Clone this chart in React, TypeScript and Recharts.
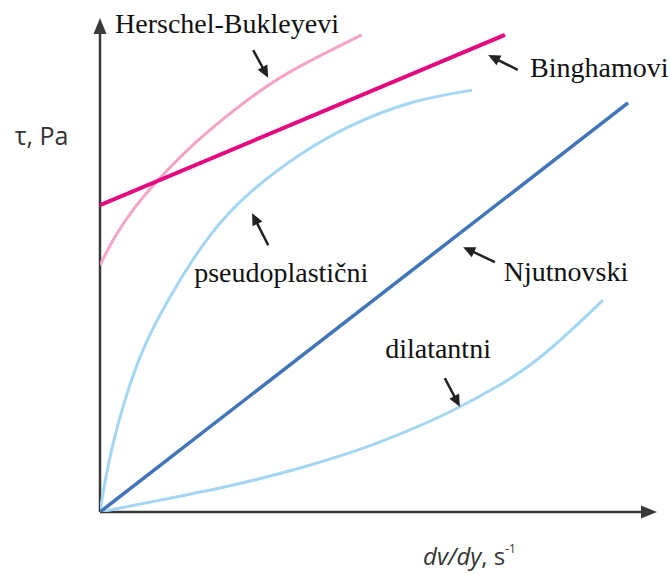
import React from 'react';
import { ComposedChart, Line, XAxis, YAxis, ReferenceLine, ReferenceDot } from 'recharts';

// curves, in axis units (0..10 on both axes)
const newtonian = [
  { x: 0, y: 0 },
  { x: 9.48, y: 8.28 },
];
const bingham = [
  { x: 0, y: 6.21 },
  { x: 7.27, y: 9.66 },
];
const herschel = [
  { x: 0, y: 5.0 },
  { x: 0.27, y: 5.57 },
  { x: 0.63, y: 6.17 },
  { x: 1.08, y: 6.76 },
  { x: 1.71, y: 7.47 },
  { x: 2.51, y: 8.22 },
  { x: 3.41, y: 8.91 },
  { x: 4.7, y: 9.66 },
];
const pseudoplastic = [
  { x: 0, y: 0 },
  { x: 0.09, y: 0.61 },
  { x: 0.23, y: 1.36 },
  { x: 0.45, y: 2.27 },
  { x: 0.81, y: 3.38 },
  { x: 1.35, y: 4.53 },
  { x: 1.97, y: 5.59 },
  { x: 2.69, y: 6.46 },
  { x: 3.59, y: 7.23 },
  { x: 4.49, y: 7.81 },
  { x: 5.57, y: 8.28 },
  { x: 6.68, y: 8.54 },
];
const dilatant = [
  { x: 0, y: 0 },
  { x: 1.08, y: 0.24 },
  { x: 2.33, y: 0.53 },
  { x: 3.59, y: 0.89 },
  { x: 5.03, y: 1.42 },
  { x: 6.46, y: 2.13 },
  { x: 7.75, y: 3.0 },
  { x: 9.03, y: 4.29 },
];

// curve labels and their pointer arrows (tail -> head)
const labels = [
  { text: 'Herschel-Bukleyevi', x: 0.27, y: 9.7 },
  { text: 'Binghamovi', x: 7.72, y: 8.81 },
  { text: 'pseudoplastični', x: 1.69, y: 4.66 },
  { text: 'Njutnovski', x: 7.25, y: 4.68 },
  { text: 'dilatantni', x: 5.12, y: 3.12 },
];
const pointers = [
  { from: { x: 2.75, y: 9.35 }, to: { x: 3.02, y: 8.79 } },
  { from: { x: 7.5, y: 8.95 }, to: { x: 6.97, y: 9.25 } },
  { from: { x: 3.02, y: 5.4 }, to: { x: 2.73, y: 6.05 } },
  { from: { x: 7.09, y: 5.06 }, to: { x: 6.52, y: 5.36 } },
  { from: { x: 6.19, y: 2.71 }, to: { x: 6.46, y: 2.13 } },
];

const axisColor = '#3a3a3a';

const arrow = (head: number, width: number, color: string, sw: number) => (p: any) => {
  const { x1, y1, x2, y2 } = p;
  const dx = x2 - x1;
  const dy = y2 - y1;
  const len = Math.hypot(dx, dy) || 1;
  const ux = dx / len;
  const uy = dy / len;
  const bx = x2 - ux * head;
  const by = y2 - uy * head;
  const nx = (-uy * width) / 2;
  const ny = (ux * width) / 2;
  return (
    <g>
      <line x1={x1} y1={y1} x2={bx + ux * 2} y2={by + uy * 2} stroke={color} strokeWidth={sw} />
      <polygon points={`${x2},${y2} ${bx + nx},${by + ny} ${bx - nx},${by - ny}`} fill={color} />
    </g>
  );
};

const serifText = (text: string) => (p: any) => (
  <text x={p.cx} y={p.cy} fontFamily="'Liberation Serif', 'Times New Roman', serif" fontSize={28} fill="#111">
    {text}
  </text>
);

const yTitle = (p: any) => (
  <text x={p.cx} y={p.cy} fontFamily="'Open Sans', sans-serif" fontSize={25} fill="#333">
    τ, Pa
  </text>
);

const xTitle = (p: any) => (
  <text x={p.cx} y={p.cy} fontFamily="'Open Sans', sans-serif" fontSize={24} fill="#333">
    <tspan fontStyle="italic">dv/dy</tspan>
    <tspan>, s</tspan>
    <tspan fontSize={12} dy={-12}>-1</tspan>
  </text>
);

export default function App() {
  return (
    <div style={{ position: 'absolute', left: 0, top: 0, background: '#fff' }}>
      <ComposedChart width={670} height={574} margin={{ top: 18, right: 13, bottom: 62, left: 100 }}>
        <XAxis type="number" dataKey="x" domain={[0, 10]} allowDataOverflow hide />
        <YAxis type="number" dataKey="y" domain={[0, 10]} allowDataOverflow hide />

        <ReferenceLine segment={[{ x: 0, y: 0 }, { x: 10, y: 0 }]} ifOverflow="visible" shape={arrow(16, 13, axisColor, 2.5)} />
        <ReferenceLine segment={[{ x: 0, y: 0 }, { x: 0, y: 10 }]} ifOverflow="visible" shape={arrow(16, 13, axisColor, 2.5)} />

        <Line data={herschel} dataKey="y" type="natural" stroke="#f5a3c7" strokeWidth={3} dot={false} isAnimationActive={false} />
        <Line data={pseudoplastic} dataKey="y" type="natural" stroke="#a3d6f3" strokeWidth={3} dot={false} isAnimationActive={false} />
        <Line data={dilatant} dataKey="y" type="monotone" stroke="#a3d6f3" strokeWidth={3} dot={false} isAnimationActive={false} />
        <Line data={newtonian} dataKey="y" type="linear" stroke="#4174b9" strokeWidth={3.5} dot={false} isAnimationActive={false} />
        <Line data={bingham} dataKey="y" type="linear" stroke="#e5097f" strokeWidth={4} dot={false} isAnimationActive={false} />

        {pointers.map((a, i) => (
          <ReferenceLine key={`p${i}`} segment={[a.from, a.to]} ifOverflow="visible" shape={arrow(12, 11, '#222', 2.5)} />
        ))}
        {labels.map((l) => (
          <ReferenceDot key={l.text} x={l.x} y={l.y} r={0} ifOverflow="visible" shape={serifText(l.text)} />
        ))}
        <ReferenceDot x={-1.53} y={7.43} r={0} ifOverflow="visible" shape={yTitle} />
        <ReferenceDot x={5.8} y={-1.08} r={0} ifOverflow="visible" shape={xTitle} />
      </ComposedChart>
    </div>
  );
}
